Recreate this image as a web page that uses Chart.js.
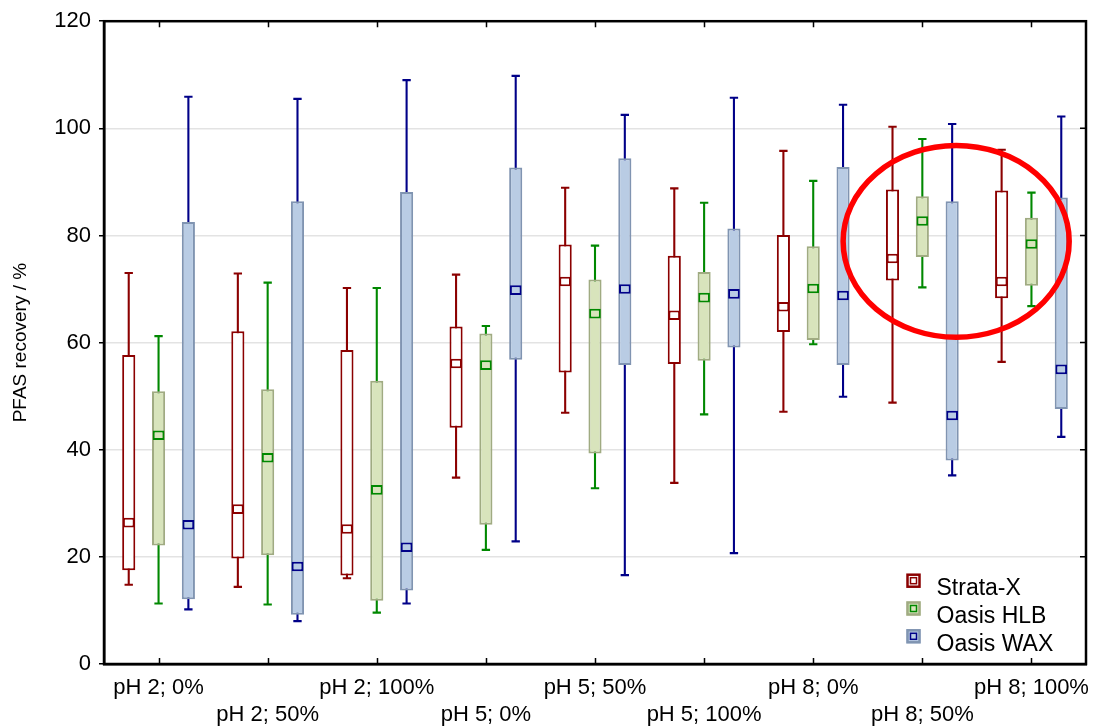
<!DOCTYPE html>
<html>
<head>
<meta charset="utf-8">
<script src="https://cdn.jsdelivr.net/npm/chart.js@4/dist/chart.umd.min.js"></script>
<style>
    body { margin: 0; background: #fff; }
    .canvasDiv { width: 1094px; height: 726px; }
</style>
</head>
<body>
<div class="canvasDiv">
    <canvas id="box-chart"></canvas>
</div>
<script>
const categories = ['pH 2; 0%', 'pH 2; 50%', 'pH 2; 100%', 'pH 5; 0%', 'pH 5; 50%', 'pH 5; 100%', 'pH 8; 0%', 'pH 8; 50%', 'pH 8; 100%'];
const yTicks = [0, 20, 40, 60, 80, 100, 120];

// Strata-X
const strataMin = [14.8, 14.4, 16.0, 34.8, 46.9, 33.8, 47.1, 48.8, 56.4];
const strataQ1 = [17.5, 19.7, 16.5, 44.1, 54.4, 56.0, 62.0, 71.6, 68.3];
const strataMed = [26.4, 28.9, 25.2, 56.1, 71.4, 65.1, 66.7, 75.7, 71.4];
const strataQ3 = [57.7, 62.1, 58.6, 63.0, 78.3, 76.2, 80.1, 88.6, 88.4];
const strataMax = [73.0, 72.9, 70.2, 72.7, 88.9, 88.8, 95.8, 100.3, 96.0];

// Oasis HLB
const hlbMin = [11.3, 11.1, 9.6, 21.3, 32.8, 46.6, 59.7, 70.3, 66.8];
const hlbQ1 = [22.1, 20.3, 11.8, 26.0, 39.3, 56.6, 60.5, 76.0, 70.6];
const hlbMed = [42.7, 38.5, 32.5, 55.8, 65.4, 68.4, 70.1, 82.7, 78.4];
const hlbQ3 = [50.9, 51.3, 52.9, 61.7, 71.8, 73.2, 78.0, 87.3, 83.3];
const hlbMax = [61.2, 71.2, 70.2, 63.1, 78.1, 86.1, 90.2, 98.0, 88.0];

// Oasis WAX
const waxMin = [10.2, 8.0, 11.3, 22.9, 16.6, 20.7, 49.9, 35.2, 42.4];
const waxQ1 = [12.1, 9.2, 13.7, 56.8, 55.8, 59.1, 55.8, 38.0, 47.6];
const waxMed = [26.0, 18.2, 21.8, 69.8, 70.0, 69.1, 68.8, 46.4, 55.0];
const waxQ3 = [82.5, 86.4, 88.1, 92.7, 94.4, 81.3, 92.8, 86.4, 87.1];
const waxMax = [105.9, 105.5, 109.0, 109.8, 102.5, 105.7, 104.4, 100.8, 102.2];

// highlighted region (category index / y value, radii in same units)
const highlight = {x: 7.31, y: 78.9, rx: 1.036, ry: 17.9};

const seriesList = [
    {name: 'Strata-X', min: strataMin, q1: strataQ1, med: strataMed, q3: strataQ3, max: strataMax,
        line: '#8b0000', fill: '#ffffff', edge: '#8b0000'},
    {name: 'Oasis HLB', min: hlbMin, q1: hlbQ1, med: hlbMed, q3: hlbQ3, max: hlbMax,
        line: '#008800', fill: '#d8e4bc', edge: '#a0ab82'},
    {name: 'Oasis WAX', min: waxMin, q1: waxQ1, med: waxMed, q3: waxQ3, max: waxMax,
        line: '#000088', fill: '#b9cce4', edge: '#8094b1'}
];

const MED_HALF = 0.9;
const CAP_HALF = 0.2;

var medians = [], boxes = [], caps = [], whiskers = [];
seriesList.forEach((s, k) => {
    var stack = 's' + k;
    medians.push({
        label: s.name, stack: stack,
        data: s.med.map(v => [v - MED_HALF, v + MED_HALF]),
        backgroundColor: s.fill, borderColor: s.line, borderWidth: 2,
        borderSkipped: false, barPercentage: 0.39
    });
    boxes.push({
        stack: stack,
        data: s.q1.map((v, i) => [v, s.q3[i]]),
        backgroundColor: s.fill, borderColor: s.edge, borderWidth: 2,
        borderSkipped: false, barPercentage: 0.44
    });
    caps.push({
        stack: stack,
        data: s.max.map(v => [v - CAP_HALF, v + CAP_HALF]),
        backgroundColor: s.line, borderWidth: 0, barPercentage: 0.28
    });
    caps.push({
        stack: stack,
        data: s.min.map(v => [v - CAP_HALF, v + CAP_HALF]),
        backgroundColor: s.line, borderWidth: 0, barPercentage: 0.28
    });
    whiskers.push({
        stack: stack,
        data: s.min.map((v, i) => [v, s.max[i]]),
        backgroundColor: s.line, borderWidth: 0, barPercentage: 0.07
    });
});

const framePlugin = {
    id: 'frame',
    afterDatasetsDraw(chart) {
        var ctx = chart.ctx;
        var a = chart.chartArea;
        var x = chart.scales.x, y = chart.scales.y;
        ctx.save();

        // inner ticks on bottom, top and right
        ctx.strokeStyle = '#000';
        ctx.lineWidth = 1.5;
        ctx.beginPath();
        categories.forEach((c, i) => {
            var px = Math.round(x.getPixelForValue(i)) + 0.5;
            ctx.moveTo(px, a.bottom); ctx.lineTo(px, a.bottom - 6);
            ctx.moveTo(px, a.top); ctx.lineTo(px, a.top + 6);
        });
        yTicks.forEach(v => {
            var py = y.getPixelForValue(v);
            ctx.moveTo(a.right, py); ctx.lineTo(a.right - 6, py);
        });
        ctx.stroke();

        ctx.lineWidth = 2.5;
        ctx.strokeRect(a.left, a.top, a.right - a.left, a.bottom - a.top);

        // red ellipse
        var cx = x.getPixelForValue(highlight.x);
        var cy = y.getPixelForValue(highlight.y);
        var rx = x.getPixelForValue(highlight.x + highlight.rx) - cx;
        var ry = cy - y.getPixelForValue(highlight.y + highlight.ry);
        ctx.strokeStyle = '#ff0000';
        ctx.lineWidth = 5.5;
        ctx.beginPath();
        ctx.ellipse(cx, cy, rx, ry, 0, 0, Math.PI * 2);
        ctx.stroke();

        // legend, bottom right inside the plot
        ctx.font = '23px "Liberation Sans", Arial, sans-serif';
        ctx.textBaseline = 'alphabetic';
        ctx.textAlign = 'left';
        seriesList.forEach((s, k) => {
            var mx = a.right - 172.5;
            var my = a.bottom - 83.3 + k * 27.8;
            ctx.fillStyle = s.fill;
            ctx.fillRect(mx - 7, my - 7, 14, 14);
            ctx.strokeStyle = s.edge;
            ctx.lineWidth = 2.5;
            ctx.strokeRect(mx - 6, my - 6, 12, 12);
            ctx.strokeStyle = s.line;
            ctx.lineWidth = 1.5;
            ctx.strokeRect(mx - 3, my - 3, 6, 6);
            ctx.fillStyle = '#000';
            ctx.fillText(s.name, a.right - 149.5, my + 14.5);
        });

        ctx.restore();
    }
};

Chart.defaults.font.family = '"Liberation Sans", Arial, sans-serif';
Chart.defaults.color = '#000';

new Chart(document.getElementById('box-chart'), {
    type: 'bar',
    data: {
        labels: categories,
        datasets: [...medians, ...boxes, ...caps, ...whiskers]
    },
    options: {
        responsive: true,
        maintainAspectRatio: false,
        animation: false,
        layout: {padding: {top: 19, right: 8, left: 0, bottom: 0}},
        plugins: {
            legend: {display: false},
            tooltip: {enabled: false}
        },
        datasets: {bar: {categoryPercentage: 0.82}},
        scales: {
            x: {
                stacked: true,
                offset: true,
                grid: {display: false, drawTicks: true, tickLength: 11},
                border: {display: true, color: '#000', width: 2.5},
                ticks: {
                    autoSkip: false, maxRotation: 0, minRotation: 0, padding: 0,
                    font: {size: 22}, color: '#000',
                    callback: (v, i) => i % 2 ? ['', categories[i]] : categories[i]
                },
                afterFit: s => { s.height = 62; }
            },
            y: {
                stacked: false,
                min: 0, max: 120,
                afterBuildTicks: s => { s.ticks = yTicks.map(v => ({value: v})); },
                grid: {color: '#e3e3e3', lineWidth: 1.5, tickColor: '#000', tickLength: 5, tickWidth: 1.5},
                border: {display: true, color: '#000', width: 2.5},
                ticks: {font: {size: 22}, color: '#000', padding: 8},
                title: {
                    display: true, text: 'PFAS recovery / %',
                    font: {size: 19}, color: '#000', padding: {top: 9, bottom: 0}
                },
                afterFit: s => { s.width = 104; }
            }
        }
    },
    plugins: [framePlugin]
});
</script>
</body>
</html>
